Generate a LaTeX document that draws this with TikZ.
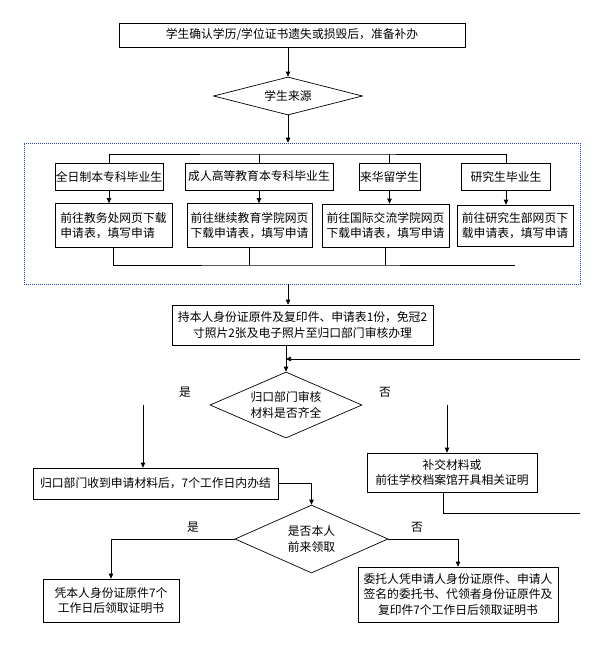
\documentclass[tikz,border=0pt]{standalone}
\usepackage{fontspec}
\newfontfamily\cjk{Noto Sans CJK SC}
\usetikzlibrary{shapes.geometric,arrows.meta}
\definecolor{grpblue}{RGB}{45,65,125}

\begin{document}
\begin{tikzpicture}[x=1pt,y=-1pt,line width=0.7pt,font=\cjk\fontsize{11.8}{15.5}\selectfont,
  box/.style={shape=rectangle,draw=black,inner sep=1pt,align=center},
  boxL/.style={box,align=left},
  decision/.style={shape=diamond,draw=black,inner sep=0pt,aspect=3,align=center},
  grp/.style={shape=rectangle,draw=grpblue,dash pattern=on 1.2pt off 0.8pt,line width=0.6pt},
  flow/.style={-{Triangle[length=5pt,width=4.5pt]}}]
\def\ty{176.5};
\def\fy{225.5};

\useasboundingbox (0,0) rectangle (600,648);

\node[box,minimum width=346,minimum height=24] (start) at (292,35) {学生确认学历/学位证书遗失或损毁后，准备补办};
\node[decision,minimum width=149,minimum height=38] (src) at (288,96) {学生来源};
\draw[flow] (start.south -| src.north) -- (src.north);

\node[grp,minimum width=556,minimum height=141] (grp) at (302,213.5) {};
\draw[flow] (src.south) -- (src.south |- grp.north);

% four kinds of students
\node[box,minimum width=108,minimum height=27] (t1) at (109,\ty) {全日制本专科毕业生};
\node[box,minimum width=148,minimum height=27] (t2) at (259,\ty) {成人高等教育本专科毕业生};
\node[box,minimum width=57,minimum height=27] (t3) at (389.5,\ty) {来华留学生};
\node[box,minimum width=89,minimum height=27] (t4) at (506,\ty) {研究生毕业生};
\coordinate (bus1) at (288,154);
\draw (t1.north) |- (bus1) -| (t4.north);
\draw (t2.north) -- (t2.north |- bus1);
\draw (t3.north) -- (t3.north |- bus1);

\node[boxL,minimum width=117,minimum height=44] (f1) at (113.5,\fy) {前往教务处网页下载\\申请表，填写申请};
\node[boxL,minimum width=125,minimum height=44] (f2) at (249.5,\fy) {前往继续教育学院网页\\下载申请表，填写申请};
\node[boxL,minimum width=127,minimum height=43] (f3) at (385.5,\fy) {前往国际交流学院网页\\下载申请表，填写申请};
\node[boxL,minimum width=116,minimum height=41] (f4) at (515,\fy) {前往研究生部网页下\\载申请表，填写申请};
\draw[flow] (t1.south) -- (f1.north -| t1.south);
\draw[flow] (t2.south) -- (f2.north -| t2.south);
\draw[flow] (t3.south) -- (f3.north -| t3.south);
\draw[flow] (t4.south) -- (f4.north -| t4.south);
\coordinate (bus2) at (288,265);
\draw (f1.south) |- (bus2) -- (bus2 -| f4.south);
\draw (f2.south) -- (f2.south |- bus2);
\draw (f3.south) -- (f3.south |- bus2);

\node[box,minimum width=261,minimum height=40] (apply) at (302.5,325) {持本人身份证原件及复印件、申请表1份，免冠2\\寸照片2张及电子照片至归口部门审核办理};
\draw[flow] (src.south |- grp.south) -- (src.south |- apply.north);

\node[decision,minimum width=152,minimum height=66] (check) at (286,405) {归口部门审核\\材料是否齐全};
\draw[flow] (check.north |- apply.south) -- (check.north);
\node (yes1) at (185,392) {是};
\node (no1) at (385,392) {否};

\node[box,minimum width=245,minimum height=31] (done) at (155.5,483.5) {归口部门收到申请材料后，7个工作日内办结};
\node[box,minimum width=170,minimum height=39] (supp) at (452,472.5) {补交材料或\\前往学校档案馆开具相关证明};
\coordinate (yesA) at (143,405);
\coordinate (noA) at (447,405);
\draw[flow] (yesA) -- (yesA |- done.north);
\draw[flow] (noA) -- (noA |- supp.north);

% back to the check
\coordinate (loopA) at (580,513);
\coordinate (loopB) at (580,359);
\draw ([xshift=-9]supp.south) |- (loopA);
\draw[flow] (loopB) -- (loopB -| check.north);

\node[decision,minimum width=153,minimum height=68] (self) at (311.5,539) {是否本人\\前来领取};
\draw[flow] (done.east) -| (self.north);
\node (yes2) at (193,527) {是};
\node (no2) at (417,527) {否};

\node[box,minimum width=136,minimum height=43] (own) at (111,600.5) {凭本人身份证原件7个\\工作日后领取证明书};
\node[box,minimum width=200,minimum height=55] (proxy) at (458,594.5) {委托人凭申请人身份证原件、申请人\\签名的委托书、代领者身份证原件及\\复印件7个工作日后领取证明书};
\draw[flow] (self.west) -| (own.north);
\draw[flow] (self.east) -| (proxy.north);
\end{tikzpicture}
\end{document}
